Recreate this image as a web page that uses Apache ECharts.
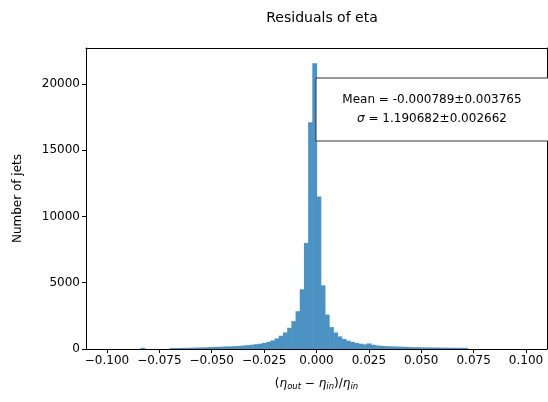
<!DOCTYPE html>
<html>
<head>
<meta charset="utf-8">
<script src="https://cdn.jsdelivr.net/npm/echarts@6/dist/echarts.min.js"></script>
<style>
  html, body { margin: 0; padding: 0; background: #fff; }
  #main { width: 548px; height: 402px; }
</style>
</head>
<body>
<div id="main"></div>
<script>
// histogram: 100 bins of width 0.002 between -0.1 and 0.1
var binStart = -0.1;
var binWidth = 0.002;
var counts = [
  0, 0, 0, 0, 0, 0, 0, 0, 90, 0,
  0, 0, 0, 0, 0, 70, 75, 80, 85, 90,
  100, 110, 120, 130, 140, 150, 165, 180, 190, 200,
  215, 235, 260, 290, 320, 360, 400, 460, 540, 650,
  800, 1000, 1250, 1600, 2100, 2850, 4500, 8000, 17100, 21550,
  11500, 4800, 2600, 1650, 1250, 950, 760, 630, 540, 460,
  400, 350, 420, 320, 270, 240, 220, 200, 190, 180,
  170, 160, 140, 135, 130, 125, 120, 115, 110, 105,
  100, 95, 90, 90, 85, 85, 0, 0, 0, 0,
  0, 0, 0, 0, 0, 0, 0, 0, 0, 0
];
var xTicks = [-0.1, -0.075, -0.05, -0.025, 0, 0.025, 0.05, 0.075, 0.1];
var yTicks = [0, 5000, 10000, 15000, 20000];
var statLines = ['Mean = -0.000789±0.003765', 'σ = 1.190682±0.002662'];

var barColor = '#4c92c3';
var font = 'DejaVu Sans';

var bins = counts.map(function (c, i) {
  var x0 = binStart + i * binWidth;
  return [x0, x0 + binWidth, c];
});

var myChart = echarts.init(document.getElementById('main'));

var option = {
  animation: false,
  backgroundColor: '#fff',
  textStyle: {fontFamily: font},
  title: {
    text: 'Residuals of eta',
    left: 317,
    textAlign: 'center',
    top: 6,
    textStyle: {fontFamily: font, fontSize: 14, fontWeight: 'normal', color: '#000'}
  },
  grid: {left: 86, top: 48, right: 1, bottom: 53},
  xAxis: [{
    type: 'value',
    min: -0.11,
    max: 0.11,
    name: '{p|(}{e|η}{s|out}{p| − }{e|η}{s|in}{p|)/}{e|η}{s|in}',
    nameLocation: 'middle',
    nameGap: 27,
    nameTextStyle: {
      rich: {
        p: {fontFamily: font, fontSize: 12, color: '#000'},
        e: {fontFamily: font, fontSize: 12, fontStyle: 'italic', color: '#000'},
        s: {fontFamily: font, fontSize: 8.5, fontStyle: 'italic', color: '#000', verticalAlign: 'bottom', padding: [6, 0, 0, 0]}
      }
    },
    axisLine: {onZero: false, lineStyle: {color: '#000', width: 1}},
    axisTick: {show: true, length: 4, customValues: xTicks, lineStyle: {color: '#000'}},
    axisLabel: {
      customValues: xTicks,
      margin: 6,
      fontFamily: font,
      fontSize: 12,
      color: '#000',
      formatter: function (v) {
        var s = Math.abs(v).toFixed(3);
        return (v < -1e-9 ? '−' : '') + s;
      }
    },
    splitLine: {show: false}
  }, {
    type: 'value',
    position: 'top',
    min: -0.11,
    max: 0.11,
    axisLine: {show: true, onZero: false, lineStyle: {color: '#000', width: 1}},
    axisTick: {show: false},
    axisLabel: {show: false},
    splitLine: {show: false}
  }],
  yAxis: [{
    type: 'value',
    position: 'left',
    min: 0,
    max: 22700,
    name: 'Number of jets',
    nameLocation: 'middle',
    nameGap: 62,
    nameTextStyle: {fontFamily: font, fontSize: 12, color: '#000'},
    axisLine: {show: true, onZero: false, lineStyle: {color: '#000', width: 1}},
    axisTick: {show: true, length: 4, customValues: yTicks, lineStyle: {color: '#000'}},
    axisLabel: {
      customValues: yTicks, margin: 6, fontFamily: font, fontSize: 12, color: '#000',
      formatter: function (v) { return String(v); }
    },
    splitLine: {show: false}
  }, {
    type: 'value',
    position: 'right',
    min: 0,
    max: 22700,
    axisLine: {show: true, onZero: false, lineStyle: {color: '#000', width: 1}},
    axisTick: {show: false},
    axisLabel: {show: false},
    splitLine: {show: false}
  }],
  series: [{
    type: 'custom',
    xAxisIndex: 0,
    yAxisIndex: 0,
    data: bins,
    encode: {x: [0, 1], y: 2},
    clip: true,
    renderItem: function (params, api) {
      var p0 = api.coord([api.value(0), api.value(2)]);
      var p1 = api.coord([api.value(1), 0]);
      return {
        type: 'rect',
        shape: {x: p0[0], y: p0[1], width: p1[0] - p0[0] + 0.6, height: p1[1] - p0[1]},
        style: {fill: barColor}
      };
    }
  }],
  graphic: [{
    type: 'rect',
    left: 315.5,
    top: 77.5,
    z: 100,
    shape: {width: 240, height: 63},
    style: {fill: '#fff', stroke: '#333', lineWidth: 1}
  }, {
    type: 'text',
    x: 432,
    y: 100,
    z: 101,
    style: {
      text: statLines[0],
      fontFamily: font, fontSize: 12, fill: '#000',
      textAlign: 'center', textVerticalAlign: 'middle'
    }
  }, {
    type: 'text',
    x: 432,
    y: 119,
    z: 101,
    style: {
      text: '{i|σ}{n|' + statLines[1].slice(1) + '}',
      textAlign: 'center', textVerticalAlign: 'middle',
      rich: {
        i: {fontFamily: font, fontSize: 12, fontStyle: 'italic', fill: '#000'},
        n: {fontFamily: font, fontSize: 12, fill: '#000'}
      }
    }
  }]
};

myChart.setOption(option);
</script>
</body>
</html>
